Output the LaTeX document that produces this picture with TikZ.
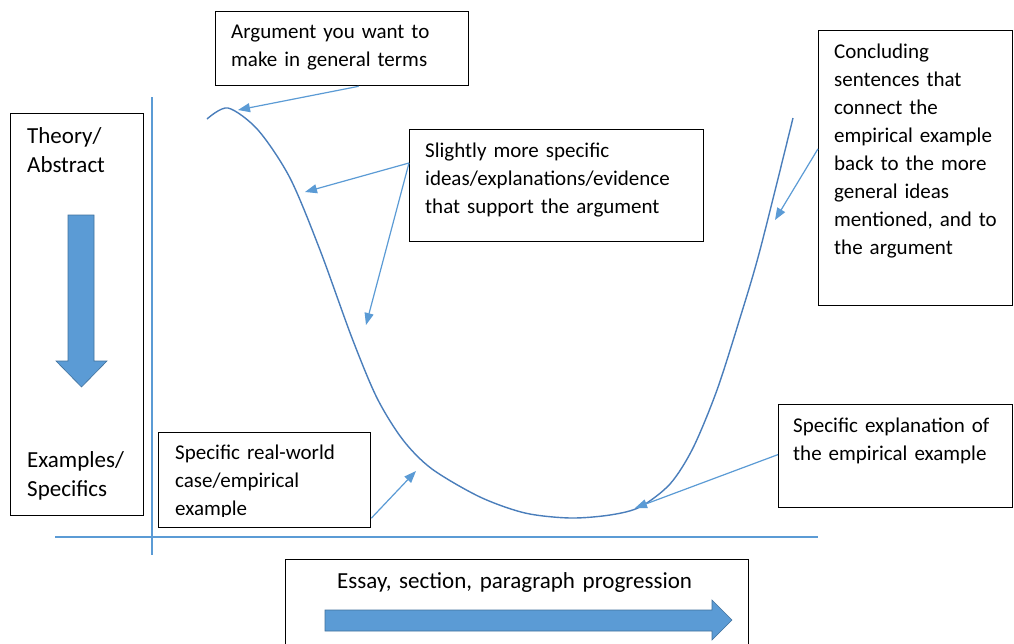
\documentclass[tikz,border=0pt]{standalone}
\usepackage{fontspec}
\setmainfont{Carlito}
\usetikzlibrary{arrows.meta,calc}
\definecolor{accent}{HTML}{5B9BD5}
\definecolor{curveblue}{HTML}{4A7EBB}
\definecolor{arrowedge}{HTML}{41719C}
\begin{document}
\begin{tikzpicture}[x=1pt,y=-1pt,
  box/.style={draw=black, line width=1.3pt, inner sep=0pt, anchor=north west},
  txt/.style={inner sep=0pt, anchor=base west, align=left, text width=420pt,
              font=\fontsize{21}{28}\selectfont},
  bigtxt/.style={txt, font=\fontsize{23}{29}\selectfont},
  pointer/.style={draw=accent, line width=1.2pt, -{Triangle[length=12pt,width=9pt]}},
  axis/.style={draw=accent, line width=1.3pt},
  fatarrow/.style={fill=accent, draw=arrowedge, line width=0.6pt}]

\clip (0,0) rectangle (1014,643);
\fill[white] (0,0) rectangle (1014,643);

% axes
\coordinate (vtop) at (152,97);
\coordinate (vbot) at (152,555);
\coordinate (hleft) at (55,537);
\coordinate (hright) at (818,537);
\draw[axis] (vtop) -- (vbot);
\draw[axis] (hleft) -- (hright);

% the progression curve
\draw[curveblue, line width=1.4pt] plot[smooth, tension=0.5] coordinates {
  (207,119) (228,108) (258,130) (290,178) (320,250) (352,338) (377,398)
  (403,440) (432,469) (480,497) (525,513) (570,518) (610,515) (640,507)
  (670,484) (693,448) (717,390) (740,318) (760,250) (793,118)};

% points on the curve that the callouts reach
\coordinate (cPeak) at (238,110);
\coordinate (cUpper) at (305,192);
\coordinate (cMid) at (366,325);
\coordinate (cLow) at (416,471);
\coordinate (cBottom) at (635,508);
\coordinate (cRise) at (775,220);

% left scale box
\node[box, minimum width=133pt, minimum height=402pt] (scale) at (10,113) {};
\node[bigtxt] (theory) at (27,143) {Theory/\\Abstract};
\node[bigtxt] (examples) at (27,467) {Examples/\\Specifics};
\fill[fatarrow] (68,215) -- (94,215) -- (94,361) -- (107,361) -- (81.5,387)
  -- (56,361) -- (68,361) -- cycle;

% callout boxes
\node[box, minimum width=253pt, minimum height=74pt] (argbox) at (215,11) {};
\node[txt] (argtxt) at (231,38) {Argument you want to\\make in general terms};

\node[box, minimum width=294pt, minimum height=112pt] (ideabox) at (409,129) {};
\node[txt] (ideatxt) at (425,157) {Slightly more specific\\ideas/explanations/evidence\\that support the argument};

\node[box, minimum width=194pt, minimum height=275pt] (conclbox) at (818,30) {};
\node[txt] (concltxt) at (834,58) {Concluding\\sentences that\\connect the\\empirical example\\back to the more\\general ideas\\mentioned, and to\\the argument};

\node[box, minimum width=212pt, minimum height=95pt] (casebox) at (158,432) {};
\begin{scope}
  \clip (158,432) rectangle (370,516.5);
  \node[txt] (casetxt) at (175,459) {Specific real-world\\case/empirical\\example};
\end{scope}

\node[box, minimum width=234pt, minimum height=103pt] (explbox) at (778,404) {};
\node[txt] (expltxt) at (793,432) {Specific explanation of\\the empirical example};

\node[box, minimum width=463pt, minimum height=110pt] (progbox) at (285,559) {};
\node[bigtxt] (progtxt) at (337,588) {Essay, section, paragraph progression};
\fill[fatarrow] (325,610) -- (712,610) -- (712,600) -- (732,620) -- (712,640)
  -- (712,631) -- (325,631) -- cycle;

% callout pointers
\draw[pointer] ($(argbox.south west)!0.565!(argbox.south east)$) -- (cPeak);
\draw[pointer] ($(ideabox.north west)!0.30!(ideabox.south west)$) -- (cUpper);
\draw[pointer] ($(ideabox.north west)!0.30!(ideabox.south west)$) -- (cMid);
\draw[pointer] ($(conclbox.north west)!0.43!(conclbox.south west)$) -- (cRise);
\draw[pointer] ($(casebox.north east)!0.895!(casebox.south east)$) -- (cLow);
\draw[pointer] ($(explbox.north west)!0.485!(explbox.south west)$) -- (cBottom);
\end{tikzpicture}
\end{document}
